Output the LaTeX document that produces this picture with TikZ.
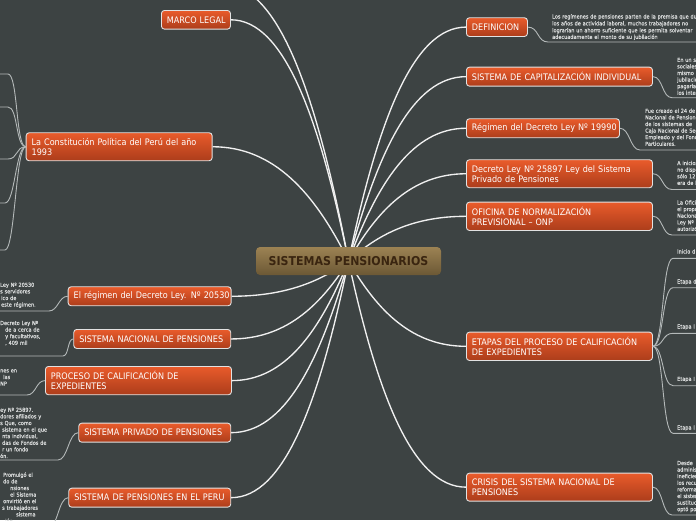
\documentclass[tikz,border=0pt]{standalone}
\usepackage{fontspec}
\setmainfont{DejaVu Sans}[FakeStretch=0.9]
\newfontfamily\smallfont{DejaVu Sans}[FakeStretch=0.9,FakeBold=0.6]
\usetikzlibrary{calc}
\pgfdeclarelayer{bglayer}
\pgfdeclarelayer{back}
\pgfsetlayers{bglayer,back,main}
\definecolor{bg}{HTML}{3D4343}
\definecolor{otop}{HTML}{E95B2B}
\definecolor{obot}{HTML}{AC3D1B}
\definecolor{obord}{HTML}{E2E2E2}
\definecolor{ctop}{HTML}{9C8253}
\definecolor{cbot}{HTML}{6C5835}
\definecolor{ctext}{HTML}{3A2510}
\definecolor{mline}{HTML}{F0F0F0}
\definecolor{sline}{HTML}{B4B9B9}
\definecolor{stext}{HTML}{D8DADA}
\tikzset{
 onode/.style={draw=obord, line width=0.9pt, rounded corners=3pt, top color=otop, bottom color=obot,
   text=white, font=\fontsize{9}{10.2}\selectfont, inner xsep=5.5pt, inner ysep=0pt,
   align=left, anchor=north west},
 cnode/.style={rounded corners=4pt, top color=ctop, bottom color=cbot, text=ctext,
   font=\fontsize{12.2}{13}\selectfont\bfseries, minimum width=185pt, minimum height=28pt, inner sep=0pt},
 stxt/.style={text=stext, font=\smallfont\fontsize{5.5}{6.6}\selectfont, inner sep=0pt, anchor=base west,
   align=left, text width=220pt},
 mconn/.style={draw=mline, line width=1.35pt},
 sconn/.style={draw=sline, line width=0.9pt},
}
\newcommand\mconnect[2]{\draw[mconn] let \p1=(#1), \p2=(#2) in (\p1) .. controls
  ({\x1+0.25*(\x2-\x1)},{\y1+0.6*(\y2-\y1)}) and ({\x2+0.45*(\x1-\x2)},{\y2}) .. (\p2);}
\begin{document}
\begin{tikzpicture}[x=1pt,y=-1pt]
\useasboundingbox (0,0) rectangle (696,520);
\begin{pgfonlayer}{bglayer}
\fill[bg] (0,0) rectangle (696,520);
\end{pgfonlayer}

% central
\node[cnode] (c) at (348.5,261) {SISTEMAS PENSIONARIOS};

% left main nodes
\node[onode, text width=58pt, minimum height=18.7pt] (ml) at (161,10) {\mbox{MARCO LEGAL}};
\node[onode, text width=175pt, minimum height=28pt] (con) at (25.7,132.3) {\mbox{La Constitución Política del Perú del año}\\1993};
\node[onode, text width=152pt, minimum height=19pt] (r20) at (67.7,286.3) {\mbox{El régimen del Decreto Ley. Nº 20530}};
\node[onode, text width=146pt, minimum height=19pt] (snp) at (73.3,329) {\mbox{SISTEMA NACIONAL DE PENSIONES}};
\node[onode, text width=175pt, minimum height=28.3pt] (pce) at (45,366) {\mbox{PROCESO DE CALIFICACIÓN DE}\\EXPEDIENTES};
\node[onode, text width=141pt, minimum height=19pt] (spp) at (78.3,422.7) {\mbox{SISTEMA PRIVADO DE PENSIONES}};
\node[onode, text width=151pt, minimum height=19pt] (spe) at (68.3,487.7) {\mbox{SISTEMA DE PENSIONES EN EL PERU}};

% right main nodes
\node[onode, text width=50pt, minimum height=18.7pt] (def) at (466,17.3) {\mbox{DEFINICION}};
\node[onode, text width=175pt, minimum height=19pt] (cap) at (466,66.7) {\mbox{SISTEMA DE CAPITALIZACIÓN INDIVIDUAL}};
\node[onode, text width=142pt, minimum height=19pt] (r19) at (466,118.3) {\mbox{Régimen del Decreto Ley Nº 19990}};
\node[onode, text width=175pt, minimum height=28pt] (d25) at (466,159.3) {\mbox{Decreto Ley Nº 25897 Ley del Sistema}\\Privado de Pensiones};
\node[onode, text width=175pt, minimum height=28.3pt] (onp) at (466,201.7) {\mbox{OFICINA DE NORMALIZACIÓN}\\PREVISIONAL – ONP};
\node[onode, text width=175pt, minimum height=28.3pt] (eta) at (466,331.7) {\mbox{ETAPAS DEL PROCESO DE CALIFICACIÓN}\\DE EXPEDIENTES};
\node[onode, text width=175pt, minimum height=28pt] (cri) at (466,472.7) {\mbox{CRISIS DEL SISTEMA NACIONAL DE}\\PENSIONES};

% off-picture topic above
\coordinate (offtop) at (222,-16);

% main connectors
\begin{pgfonlayer}{back}
\mconnect{c.center}{offtop}
\mconnect{c.center}{ml.east}
\mconnect{c.center}{con.east}
\mconnect{c.center}{r20.east}
\mconnect{c.center}{snp.east}
\mconnect{c.center}{pce.east}
\mconnect{c.center}{spp.east}
\mconnect{c.center}{spe.east}
\mconnect{c.center}{def.west}
\mconnect{c.center}{cap.west}
\mconnect{c.center}{r19.west}
\mconnect{c.center}{d25.west}
\mconnect{c.center}{onp.west}
\mconnect{c.center}{eta.west}
\mconnect{c.center}{cri.west}
\end{pgfonlayer}

% ---------- right side sub-topics ----------
\node[stxt] (tdef) at (552,18.5) {\fontsize{5.5}{6.9}\selectfont
Los regímenes de pensiones parten de la premisa que durante\\
los años de actividad laboral, muchos trabajadores no\\
lograrían un ahorro suficiente que les permita solventar\\
adecuadamente el monto de su jubilación};
\coordinate (udef) at (548,42); \coordinate (edef) at (700,42);
\draw[sconn] (def.east) .. controls +(11,0) and +(-11,0) .. (udef) -- (edef);

\node[stxt] (tcap) at (677,61.8) {En un sistema\\sociales\\mismo\\jubilación\\pagaría\\los intereses};
\coordinate (ucap) at (672,97.7); \coordinate (ecap) at (700,97.7);
\draw[sconn] (cap.east) .. controls +(10,0) and +(-10,0) .. (ucap) -- (ecap);

\node[stxt] (tr19) at (645,112.8) {Fue creado el 24 de abril\\Nacional de Pensiones\\de los sistemas de\\Caja Nacional de Seguro\\Empleado y del Fondo\\Particulares.};
\coordinate (ur19) at (640,150); \coordinate (er19) at (700,150);
\draw[sconn] (r19.east) .. controls +(10,0) and +(-10,0) .. (ur19) -- (er19);

\node[stxt] (td25) at (677,165.1) {A inicios\\no disponía\\sólo 12\\era de la};
\coordinate (ud25) at (672,189.5); \coordinate (ed25) at (700,189.5);
\draw[sconn] (d25.east) .. controls +(10,0) and +(-10,0) .. (ud25) -- (ed25);

\node[stxt] (tonp) at (677,204.5) {La Oficina\\el propósito\\Nacional\\Ley Nº\\autorizó};
\coordinate (uonp) at (672,235); \coordinate (eonp) at (700,235);
\draw[sconn] (onp.east) .. controls +(10,0) and +(-10,0) .. (uonp) -- (eonp);

\node[stxt] (te1) at (677,253.5) {Inicio d};
\node[stxt] (te2) at (677,283.5) {Etapa d};
\node[stxt] (te3) at (677,328.5) {Etapa I};
\node[stxt] (te4) at (677,380.8) {Etapa I};
\node[stxt] (te5) at (677,429.5) {Etapa I};
\coordinate (ue1) at (673,258.3); \coordinate (ee1) at (700,258.3);
\coordinate (ue2) at (673,287.7); \coordinate (ee2) at (700,287.7);
\coordinate (ue3) at (673,333.3); \coordinate (ee3) at (700,333.3);
\coordinate (ue4) at (673,385.7); \coordinate (ee4) at (700,385.7);
\coordinate (ue5) at (673,433.3); \coordinate (ee5) at (700,433.3);
\foreach \i in {1,...,5}{
  \draw[sconn] (eta.east) .. controls +(11,0) and +(-11,0) .. (ue\i) -- (ee\i);
}

\node[stxt] (tcri) at (677,465) {Desde\\administración\\ineficiente\\los recursos\\reforma\\el sistema\\sustitución\\optó por};
\coordinate (ucri) at (672,515); \coordinate (ecri) at (700,515);
\draw[sconn] (cri.east) .. controls +(10,0) and +(-10,0) .. (ucri) -- (ecri);

% ---------- left side sub-topics ----------
\coordinate (k1) at (8,74);   \coordinate (j1) at (-3,74);
\coordinate (k2) at (8,107);  \coordinate (j2) at (-3,107);
\coordinate (k3) at (8,159);  \coordinate (j3) at (-3,159);
\coordinate (k4) at (5,203);  \coordinate (j4) at (-3,203);
\coordinate (k5) at (5,250);  \coordinate (j5) at (-3,250);
\foreach \i in {1,...,5}{
  \draw[sconn] (con.west) .. controls +(-10,0) and +(10,0) .. (k\i) -- (j\i);
}

\node[stxt] (tr20) at (0,286.8) {Ley Nº 20530\\s servidores\\\hspace*{1pt}ico de\\\hspace*{1pt}este régimen.};
\coordinate (ur20) at (49,311); \coordinate (er20) at (-3,311);
\draw[sconn] (r20.west) .. controls +(-9,0) and +(9,0) .. (ur20) -- (er20);

\node[stxt] (tsnp) at (0,325) {Decreto Ley Nº\\\hspace*{5pt}de a cerca de\\\hspace*{5pt}y facultativos,\\\hspace*{5pt}, 409 mil};
\coordinate (usnp) at (63,356); \coordinate (esnp) at (-3,356);
\draw[sconn] (snp.west) .. controls +(-6,0) and +(6,0) .. (usnp) -- (esnp);

\node[stxt] (tpce) at (0,372.4) {nes en\\\hspace*{3pt}las\\NP};
\coordinate (upce) at (27,395); \coordinate (epce) at (-3,395);
\draw[sconn] (pce.west) .. controls +(-9,0) and +(9,0) .. (upce) -- (epce);

\node[stxt] (tspp) at (0,411.8) {ey Nº 25897.\\dores afiliados y\\s Que, como\\\hspace*{2pt}sistema en el que\\\hspace*{2pt}nta individual,\\\hspace*{2pt}das de Fondos de\\\hspace*{2pt}r un fondo\\ón.};
\coordinate (uspp) at (58,460); \coordinate (espp) at (-3,460);
\draw[sconn] (spp.west) .. controls +(-10,0) and +(10,0) .. (uspp) -- (espp);

\node[stxt] (tspe) at (0,476.8) {\hspace*{3pt}Promulgó el\\\hspace*{3pt}do de\\\hspace*{10pt}nsiones\\\hspace*{10pt}el Sistema\\\hspace*{3pt}onvirtió en el\\\hspace*{2pt}s trabajadores\\\hspace*{16pt}sistema\\\hspace*{5pt}ión};
\coordinate (uspe) at (48,528); \coordinate (espe) at (-3,528);
\draw[sconn] (spe.west) .. controls +(-10,0) and +(10,0) .. (uspe) -- (espe);

\end{tikzpicture}
\end{document}
